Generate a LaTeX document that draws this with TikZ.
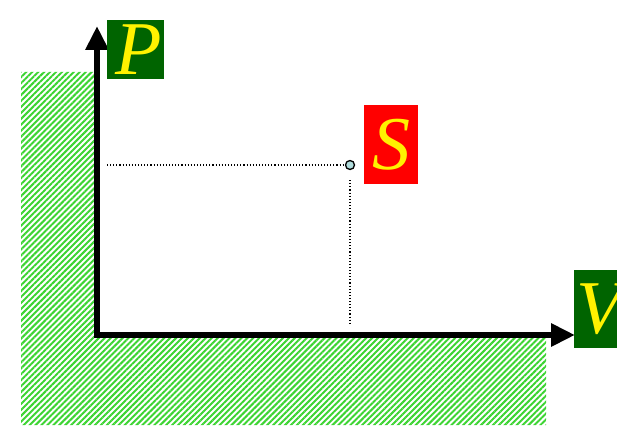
\documentclass[tikz,border=0pt]{standalone}
\usepackage{fontspec}
\setmainfont{Liberation Serif}
\usetikzlibrary{arrows.meta,patterns.meta}
\definecolor{boxgreen}{RGB}{0,100,0}
\definecolor{hatchgreen}{RGB}{60,212,50}
\definecolor{ptfill}{RGB}{176,220,220}
\tikzset{
  hatch/.style={pattern={Lines[angle=45,distance=4.2pt,line width=2pt]},pattern color=hatchgreen,draw=none},
  axis/.style={line width=6pt,-{Triangle[length=24pt,width=22pt]}},
  lbl/.style={inner sep=0pt,text=yellow,font=\itshape\fontsize{76}{76}\selectfont},
  guide/.style={dotted,line width=1.1pt},
}
\begin{document}
\begin{tikzpicture}[x=1pt,y=-1pt]
\useasboundingbox (0,0) rectangle (617,425);
\clip (0,0) rectangle (617,425);
% hatched L-shaped region
\fill[hatch] (21,72) -- (96,72) -- (96,337) -- (546,337) -- (546,425) -- (21,425) -- cycle;
% axis ends
\coordinate (Ptip) at (97,26);
\coordinate (Vtip) at (575,335);
\draw[axis] (97,338) -- (Ptip);
\draw[axis] (94,335) -- (Vtip);
% labels
\node[lbl,fill=boxgreen,minimum width=57pt,minimum height=59pt,text width=57pt,align=left] (P) at (135.5,49.5) {\hspace*{8pt}P};
\node[lbl,fill=red,minimum width=54pt,minimum height=79pt] (S) at (391,144.5) {S};
\node[lbl,fill=boxgreen,minimum width=62pt,minimum height=78pt,text width=62pt,align=left] (V) at (605,309) {\hspace*{2pt}V};
% state point
\node[circle,draw=black,line width=1.3pt,fill=ptfill,minimum size=9pt,inner sep=0pt] (pt) at (350,165) {};
\coordinate (hl) at (107,165);
\coordinate (vl) at (350,325);
\draw[guide] (hl) -- (pt.west);
\draw[guide] ([yshift=-10pt]pt.south) -- (vl);
\end{tikzpicture}
\end{document}
